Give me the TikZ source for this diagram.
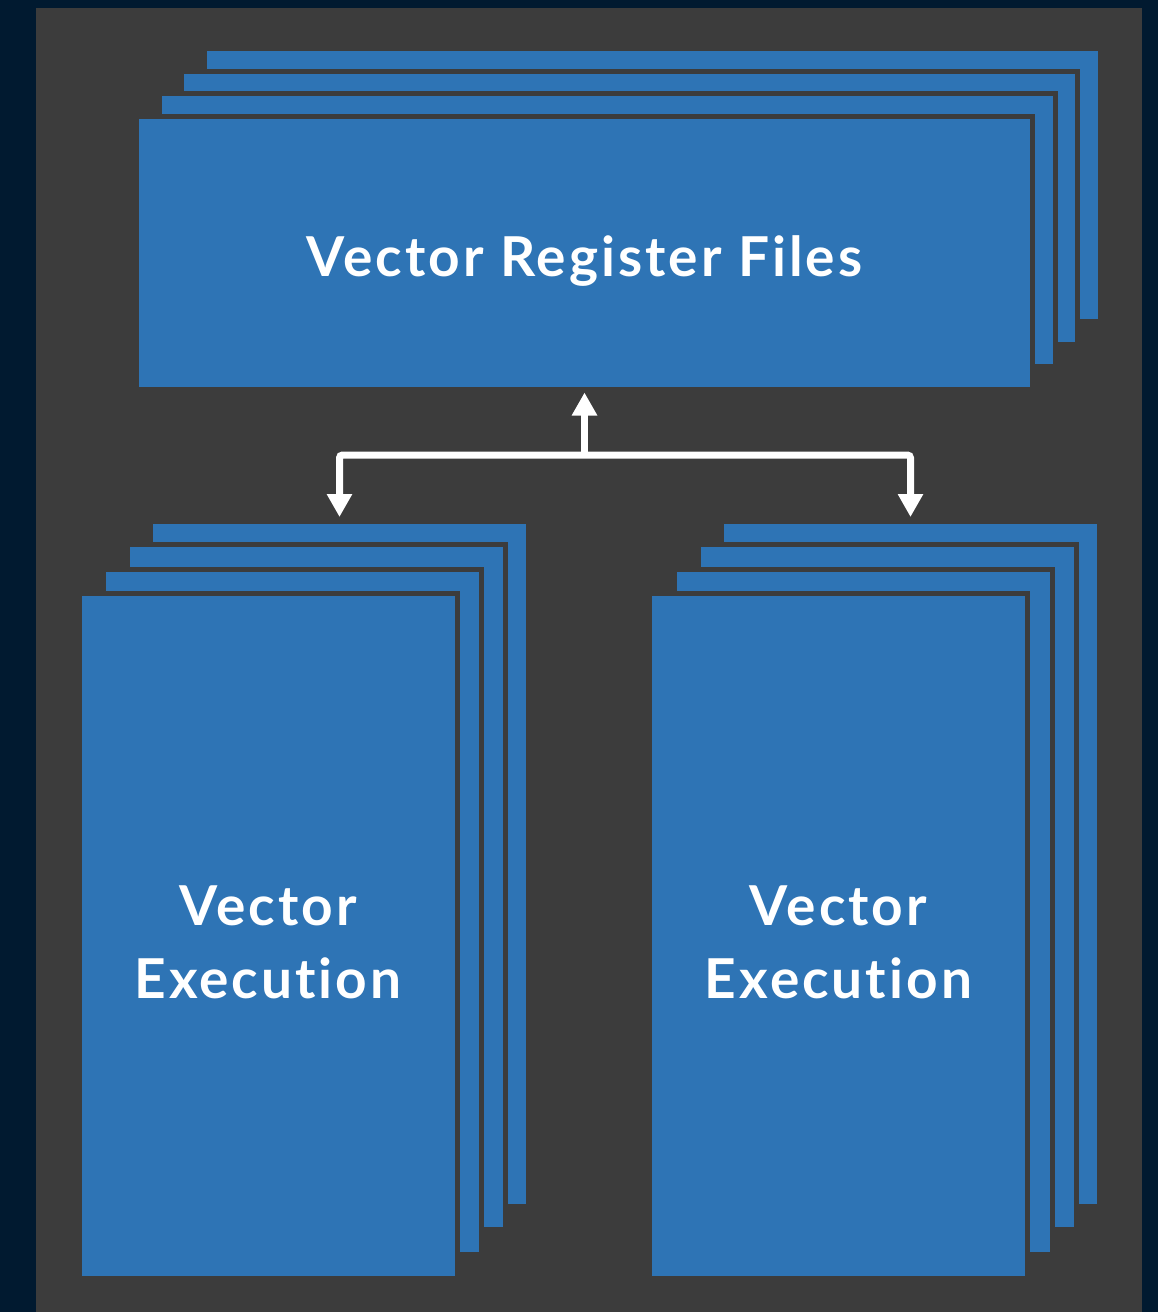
\documentclass[tikz,border=0pt]{standalone}
\usepackage{fontspec}
\setmainfont{Lato}[Ligatures=NoCommon, LetterSpace=5.5]
\usetikzlibrary{arrows.meta}
\definecolor{navybg}{HTML}{011A30}
\definecolor{panel}{HTML}{3C3C3C}
\definecolor{boxblue}{HTML}{2E74B5}
\tikzset{
  card/.style={draw=panel, line width=5pt, fill=boxblue, inner sep=0pt, outer sep=0pt},
  wide/.style={card, minimum width=896pt, minimum height=273pt},
  tall/.style={card, minimum width=378pt, minimum height=685pt},
  lbl/.style={text=white, font=\fontsize{55}{73}\selectfont\bfseries, align=center},
  conn/.style={draw=white, line width=7pt, rounded corners=3pt},
  bigtip/.tip={Triangle[width=24pt, length=23pt]}
}
\begin{document}
\begin{tikzpicture}[x=1pt, y=-1pt]
\useasboundingbox (0,0) rectangle (1158,1312);
\fill[navybg] (0,0) rectangle (1158,1312);
\fill[panel] (36,8) rectangle (1142,1312);
% top stack
\node[wide] (T4) at (652.0,185.0) {};
\node[wide] (T3) at (629.0,208.0) {};
\node[wide] (T2) at (607.0,229.5) {};
\node[wide] (T1) at (584.5,253.0) {};
\node[lbl, yshift=-8pt] (T1t) at (T1.center) {Vector Register Files};
% left stack
\node[tall] (L4) at (339.5,863.5) {};
\node[tall] (L3) at (316.5,887.0) {};
\node[tall] (L2) at (292.0,911.5) {};
\node[tall] (L1) at (268.0,935.5) {};
\node[lbl, yshift=-6.5pt] (L1t) at (L1.center) {Vector\\Execution};
% right stack
\node[tall] (R4) at (910.5,863.5) {};
\node[tall] (R3) at (887.5,887.0) {};
\node[tall] (R2) at (863.5,911.5) {};
\node[tall] (R1) at (838.5,935.5) {};
\node[lbl, yshift=-6.5pt] (R1t) at (R1.center) {Vector\\Execution};
% connectors
\coordinate (J) at (584.5,455);
\draw[conn, {bigtip}-{bigtip}, shorten <=4pt, shorten >=4pt] (L4.north) |- (J) -| (R4.north);
\draw[conn, -{bigtip}, rounded corners=0pt, shorten >=3pt] (J) -- (T1.south);
\end{tikzpicture}
\end{document}
